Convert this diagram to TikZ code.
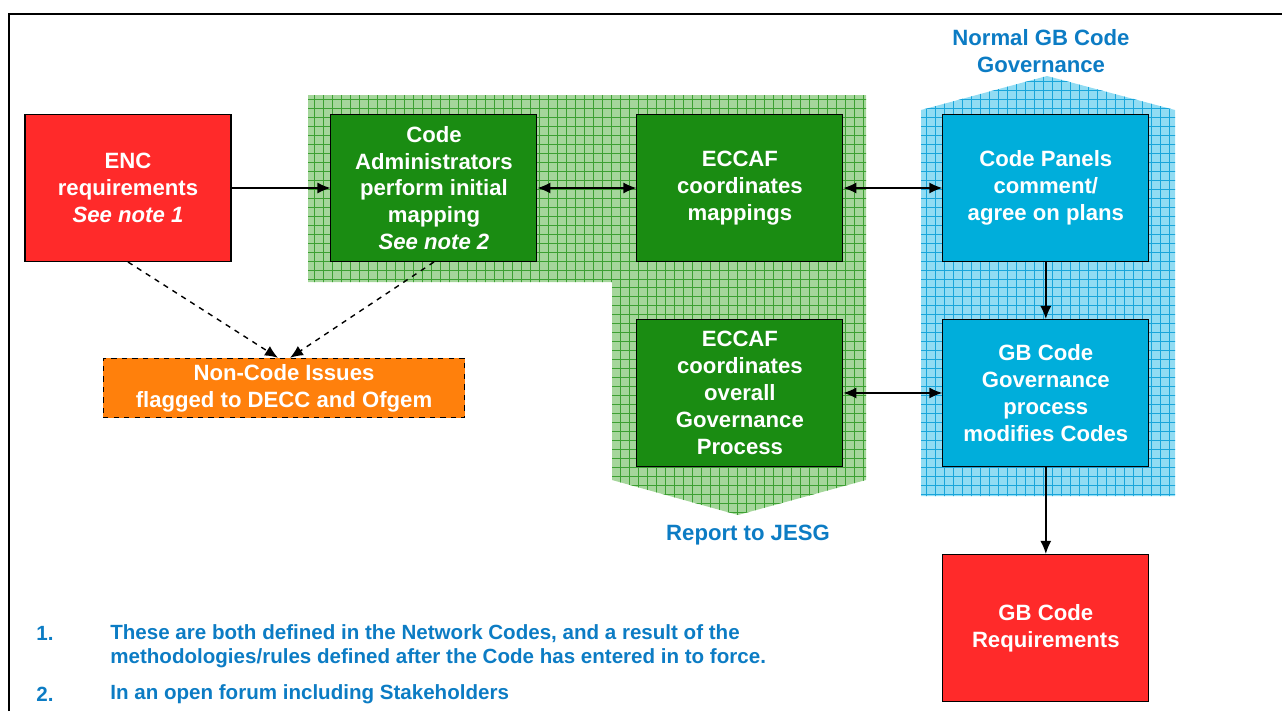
\documentclass[tikz,border=0pt]{standalone}
\usepackage{fontspec}
\setmainfont{Liberation Sans}
\usetikzlibrary{arrows.meta}
\definecolor{encred}{RGB}{255,42,42}
\definecolor{boxgreen}{RGB}{26,140,18}
\definecolor{bggreen}{RGB}{165,214,155}
\definecolor{gridgreen}{RGB}{60,160,50}
\definecolor{boxblue}{RGB}{0,174,219}
\definecolor{bgblue}{RGB}{145,220,243}
\definecolor{gridblue}{RGB}{25,165,218}
\definecolor{issueorange}{RGB}{255,128,12}
\definecolor{noteblue}{RGB}{12,124,196}
\tikzstyle{codebox} = [rectangle, minimum width=4.12cm, minimum height=2.94cm, text centered, align=center, draw=black, line width=0.6pt, text=white, font=\fontsize{12.6}{15.3}\selectfont\bfseries]
\tikzstyle{redbox} = [codebox, fill=encred]
\tikzstyle{greenbox} = [codebox, fill=boxgreen]
\tikzstyle{bluebox} = [codebox, fill=boxblue]
\tikzstyle{issuebox} = [codebox, minimum width=7.24cm, minimum height=1.18cm, fill=issueorange, dashed]
\tikzstyle{heading} = [text=noteblue, align=center, font=\fontsize{12.6}{15}\selectfont\bfseries]
\tikzstyle{note} = [text=noteblue, inner sep=0pt, align=left, font=\fontsize{11.7}{13.6}\selectfont\bfseries]
\tikzstyle{arrow} = [thick,->,>={Latex[length=2.6mm,width=2.2mm]}]
\tikzstyle{dblarrow} = [thick,<->,>={Latex[length=2.6mm,width=2.2mm]}]
\tikzstyle{dasharrow} = [thick,dashed,->,>={Latex[length=2.6mm,width=2.2mm]}]

\begin{document}
\begin{tikzpicture}[x=0.02cm, y=0.02cm, node distance=6.12cm]
	\useasboundingbox (0,0) rectangle (1282,-711);
	\draw [line width=1.5pt] (9,-711) -- (9,-14) -- (1282,-14);
	\begin{scope}
		\clip (308,-95) -- (866,-95) -- (866,-480) -- (738,-515) -- (612,-480) -- (612,-282) -- (308,-282) -- cycle;
		\fill [bggreen] (300,-60) rectangle (880,-520);
		\draw [gridgreen, line width=0.5pt, step=0.18cm] (300,-60) grid (880,-520);
	\end{scope}
	\begin{scope}
		\clip (921,-110) -- (1047,-76) -- (1175,-110) -- (1175,-496) -- (921,-496) -- cycle;
		\fill [bgblue] (915,-70) rectangle (1180,-500);
		\draw [gridblue, line width=0.5pt, step=0.18cm] (915,-70) grid (1180,-500);
	\end{scope}
	\node (enc) [redbox] at (128,-188) {ENC\\requirements\\\textit{See note 1}};
	\node (admin) [greenbox, right of=enc] {Code\\Administrators\\perform initial\\mapping\\\textit{See note 2}};
	\node (map) [greenbox, right of=admin] {ECCAF\\coordinates\\mappings};
	\node (panels) [bluebox, right of=map] {Code Panels\\comment/\\agree on plans};
	\node (govproc) [greenbox, node distance=4.1cm, below of=map] {ECCAF\\coordinates\\overall\\Governance\\Process};
	\node (gbgov) [bluebox, node distance=4.1cm, below of=panels] {GB Code\\Governance\\process\\modifies Codes};
	\node (gbreq) [redbox, node distance=4.7cm, below of=gbgov] {GB Code\\Requirements};
	\node (noncode) [issuebox] at (284,-388) {Non-Code Issues\\flagged to DECC and Ofgem};
	\node (normal) [heading] at (1041,-51) {Normal GB Code\\Governance};
	\node (report) [heading] at (748,-535) {Report to JESG};
	\node (num1) [note, anchor=west] at (36,-633) {1.};
	\node (note1) [note, anchor=west] at (110,-646) {These are both defined in the Network Codes, and a result of the\\methodologies/rules defined after the Code has entered in to force.};
	\node (num2) [note, anchor=west] at (36,-694) {2.};
	\node (note2) [note, anchor=west] at (110,-694) {In an open forum including Stakeholders};
	\draw [arrow] (enc) -- (admin);
	\draw [dblarrow] (admin) -- (map);
	\draw [dblarrow] (map) -- (panels);
	\draw [arrow] (panels) -- (gbgov);
	\draw [dblarrow] (govproc) -- (gbgov);
	\draw [arrow] (gbgov) -- (gbreq);
	\draw [dasharrow] (enc.south) -- ([xshift=-0.12cm]noncode.north);
	\draw [dasharrow] (admin.south) -- ([xshift=0.12cm]noncode.north);
\end{tikzpicture}
\end{document}
